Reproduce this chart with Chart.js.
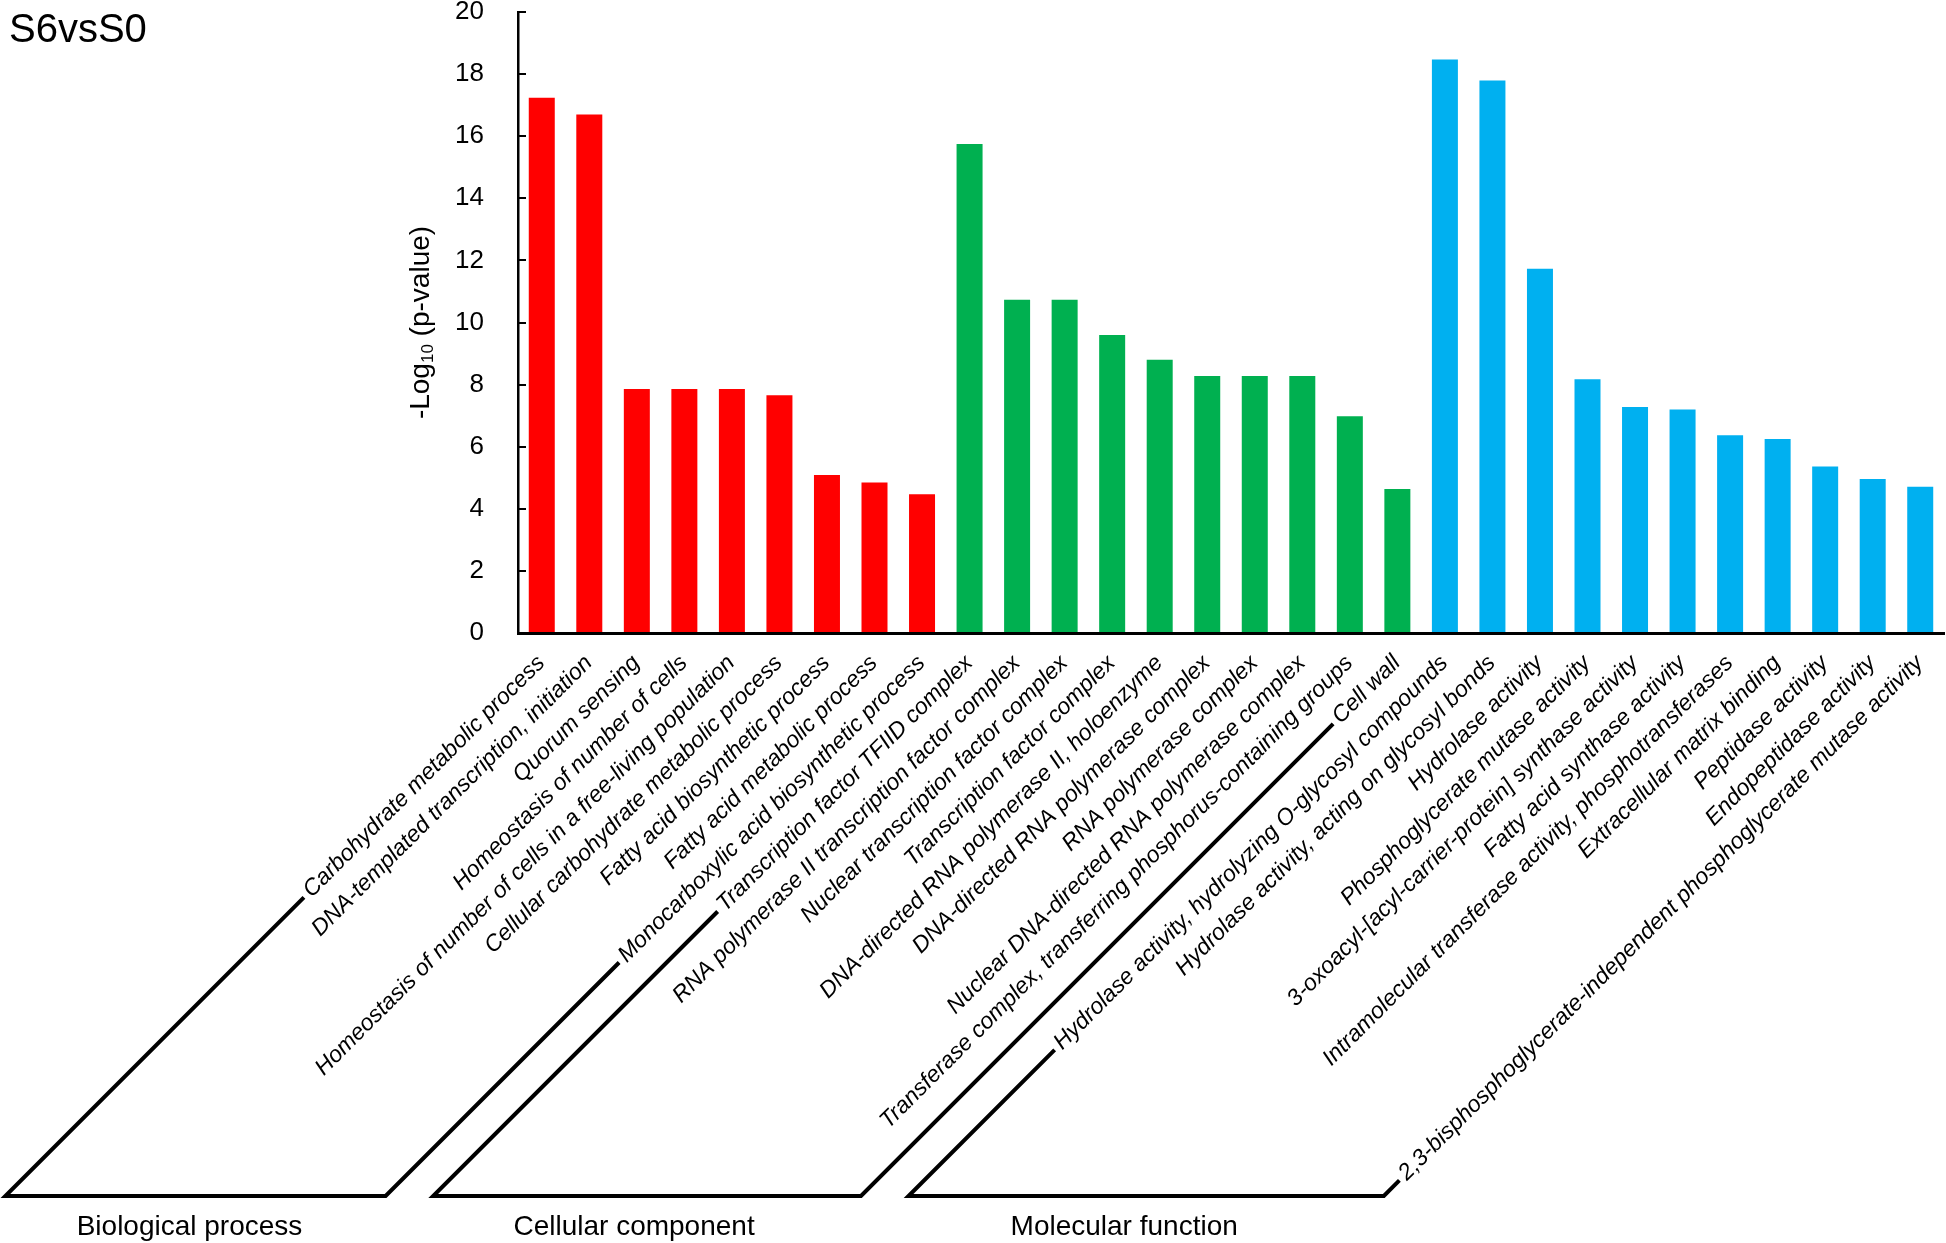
<!DOCTYPE html>
<html>
  <head>
    <title>S6vsS0</title>
    <script src="https://cdn.jsdelivr.net/npm/chart.js"></script>
    <style>
      body { margin: 0; background: #fff; }
    </style>
  </head>
  <body>
    <canvas id="go-chart" width="1946" height="1243"></canvas>

    <script>
      // GO terms and -log10(p) values
      const bpLabels = [
        "Carbohydrate metabolic process",
        "DNA-templated transcription, initiation",
        "Quorum sensing",
        "Homeostasis of number of cells",
        "Homeostasis of number of cells in a free-living population",
        "Cellular carbohydrate metabolic process",
        "Fatty acid biosynthetic process",
        "Fatty acid metabolic process",
        "Monocarboxylic acid biosynthetic process",
      ];
      const bpValues = [17.24, 16.7, 7.86, 7.86, 7.86, 7.66, 5.09, 4.85, 4.47];

      const ccLabels = [
        "Transcription factor TFIID complex",
        "RNA polymerase II transcription factor complex",
        "Nuclear transcription factor complex",
        "Transcription factor complex",
        "DNA-directed RNA polymerase II, holoenzyme",
        "DNA-directed RNA polymerase complex",
        "RNA polymerase complex",
        "Nuclear DNA-directed RNA polymerase complex",
        "Transferase complex, transferring phosphorus-containing groups",
        "Cell wall",
      ];
      const ccValues = [15.75, 10.73, 10.73, 9.6, 8.8, 8.28, 8.28, 8.28, 6.98, 4.64];

      const mfLabels = [
        "Hydrolase activity, hydrolyzing O-glycosyl compounds",
        "Hydrolase activity, acting on glycosyl bonds",
        "Hydrolase activity",
        "Phosphoglycerate mutase activity",
        "3-oxoacyl-[acyl-carrier-protein] synthase activity",
        "Fatty acid synthase activity",
        "Intramolecular transferase activity, phosphotransferases",
        "Extracellular matrix binding",
        "Peptidase activity",
        "Endopeptidase activity",
        "2,3-bisphosphoglycerate-independent phosphoglycerate mutase activity",
      ];
      const mfValues = [18.47, 17.79, 11.73, 8.17, 7.28, 7.2, 6.37, 6.25, 5.36, 4.96, 4.71];

      const groupNames = ["Biological process", "Cellular component", "Molecular function"];
      const groupColors = ["#FF0000", "#00B050", "#00B0F0"];

      const groups = [bpLabels, ccLabels, mfLabels];
      const labels = [...bpLabels, ...ccLabels, ...mfLabels];
      const values = [...bpValues, ...ccValues, ...mfValues];
      const colors = [];
      groups.forEach((g, gi) => g.forEach(() => colors.push(groupColors[gi])));

      const FONT = '"Liberation Sans", Arial, sans-serif';
      // group names sit a little left of the bracket centres
      const groupNameShift = [-6, -13, -22];

      // rotated term labels, group brackets, y title and panel title
      const decorations = {
        id: "decorations",
        afterDraw(chart) {
          const ctx = chart.ctx;
          const xs = chart.scales.x;
          const ys = chart.scales.y;
          const base = ys.getPixelForValue(0);
          const c = Math.SQRT1_2;

          ctx.save();
          ctx.fillStyle = "#000";
          ctx.font = "italic 23px " + FONT;
          ctx.textAlign = "right";
          ctx.textBaseline = "alphabetic";
          const starts = [];
          labels.forEach((t, i) => {
            const ax = xs.getPixelForValue(i) + 4;
            const ay = base + 31;
            ctx.save();
            ctx.translate(ax, ay);
            ctx.rotate(-Math.PI / 4);
            ctx.fillText(t, 0, 0);
            ctx.restore();
            const d = ctx.measureText(t).width * c;
            starts.push([ax - d - 7.7, ay + d - 0.7]);
          });

          const lineY = 1196;
          ctx.strokeStyle = "#000";
          ctx.lineWidth = 4;
          ctx.lineJoin = "miter";
          let idx = 0;
          groups.forEach((g, gi) => {
            const p1 = starts[idx];
            const p2 = starts[idx + g.length - 1];
            idx += g.length;
            const b1 = p1[0] - (lineY - p1[1]);
            const b2 = p2[0] - (lineY - p2[1]);
            ctx.beginPath();
            ctx.moveTo(p1[0], p1[1]);
            ctx.lineTo(b1, lineY);
            ctx.lineTo(b2, lineY);
            ctx.lineTo(p2[0], p2[1]);
            ctx.stroke();

            ctx.font = "28px " + FONT;
            ctx.textAlign = "center";
            ctx.fillText(groupNames[gi], (b1 + b2) / 2 + groupNameShift[gi], 1235);
          });

          // y axis title with subscript
          ctx.save();
          ctx.translate(421, (ys.top + ys.bottom) / 2);
          ctx.rotate(-Math.PI / 2);
          ctx.textAlign = "left";
          ctx.textBaseline = "middle";
          const big = "28px " + FONT;
          const small = "17px " + FONT;
          ctx.font = big;
          const w1 = ctx.measureText("-Log").width;
          const w3 = ctx.measureText(" (p-value)").width;
          ctx.font = small;
          const w2 = ctx.measureText("10").width;
          let x0 = -(w1 + w2 + w3) / 2;
          ctx.font = big;
          ctx.fillText("-Log", x0, 0);
          ctx.font = small;
          ctx.fillText("10", x0 + w1, 7);
          ctx.font = big;
          ctx.fillText(" (p-value)", x0 + w1 + w2, 0);
          ctx.restore();

          ctx.font = "40px " + FONT;
          ctx.textAlign = "left";
          ctx.textBaseline = "alphabetic";
          ctx.fillText("S6vsS0", 9, 42);
          ctx.restore();
        },
      };

      const ctx = document.getElementById("go-chart").getContext("2d");
      new Chart(ctx, {
        type: "bar",
        data: {
          labels: labels,
          datasets: [
            {
              data: values,
              backgroundColor: colors,
              borderWidth: 0,
              barPercentage: 0.547,
              categoryPercentage: 1.0,
            },
          ],
        },
        options: {
          responsive: false,
          animation: false,
          devicePixelRatio: 1,
          layout: { padding: { top: 12, right: 2, left: 0, bottom: 0 } },
          plugins: {
            legend: { display: false },
            tooltip: { enabled: false },
          },
          scales: {
            x: {
              offset: true,
              grid: { display: false },
              border: { display: true, color: "#000", width: 3 },
              ticks: { display: false },
              afterFit(scale) {
                scale.height = 610;
              },
            },
            y: {
              min: 0,
              max: 20,
              ticks: {
                stepSize: 2,
                color: "#000",
                padding: 42,
                font: { family: FONT, size: 26, lineHeight: 1 },
              },
              grid: {
                drawOnChartArea: false,
                drawTicks: true,
                tickLength: -8,
                color: "#000",
                lineWidth: 2,
              },
              border: { display: true, color: "#000", width: 2.5 },
              afterFit(scale) {
                scale.width = 518;
                scale.paddingTop = 0;
                scale.paddingBottom = 0;
              },
            },
          },
        },
        plugins: [decorations],
      });
    </script>
  </body>
</html>
